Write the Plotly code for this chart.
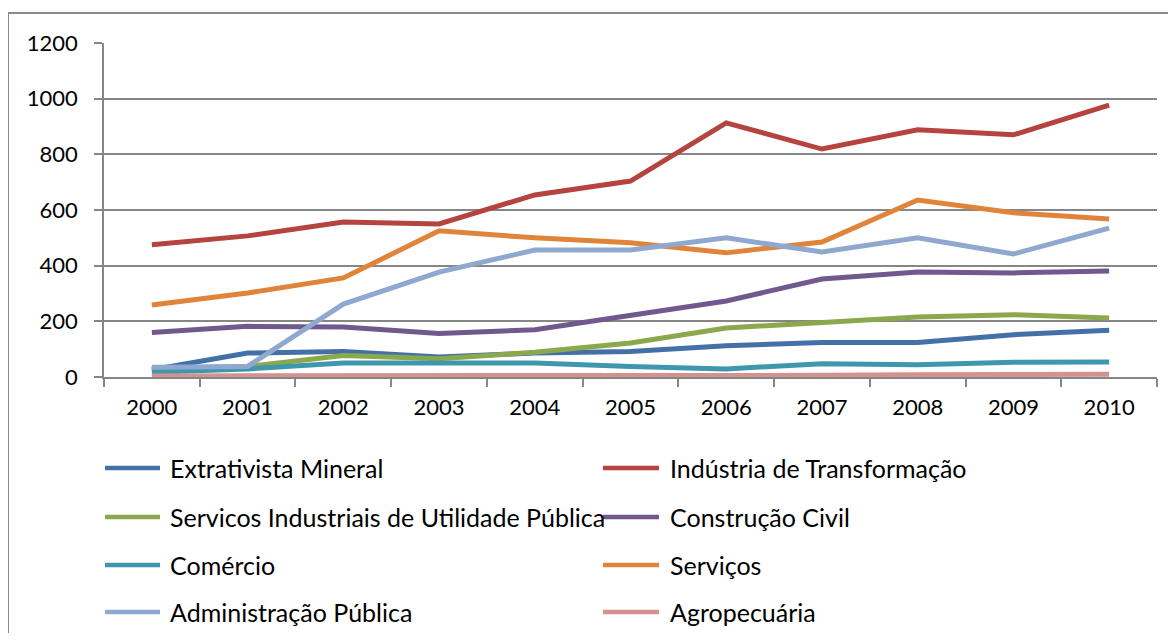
import plotly.graph_objects as go

# Data
years = ['2000', '2001', '2002', '2003', '2004', '2005', '2006', '2007', '2008', '2009', '2010']
extrativista = [26, 86, 92, 72, 86, 92, 112, 124, 124, 152, 168]
industria = [475, 507, 557, 550, 654, 704, 913, 819, 888, 870, 977]
servicos_ind = [30, 38, 77, 66, 89, 122, 176, 194, 216, 224, 212]
construcao = [160, 182, 180, 156, 170, 223, 273, 352, 377, 374, 381]
comercio = [17, 29, 50, 50, 50, 38, 29, 48, 44, 53, 54]
servicos = [259, 302, 356, 525, 500, 482, 446, 485, 636, 590, 568]
administracao = [35, 38, 262, 377, 456, 456, 500, 449, 500, 442, 535]
agropecuaria = [4, 4, 4, 4, 4, 6, 2, 6, 8, 11, 10]

series = [
    ('Extrativista Mineral', extrativista, '#4470A8'),
    ('Indústria de Transformação', industria, '#B5433F'),
    ('Servicos Industriais de Utilidade Pública', servicos_ind, '#8BA84C'),
    ('Construção Civil', construcao, '#71588F'),
    ('Comércio', comercio, '#3F97AE'),
    ('Serviços', servicos, '#E0843A'),
    ('Administração Pública', administracao, '#8FA8CF'),
    ('Agropecuária', agropecuaria, '#D49190'),
]

# page body has an 8px margin, so work in figure pixels = page pixels - 8
OFF = 8
W, H = 1176 - 2 * OFF, 641 - 2 * OFF
L, R, T, B = 104 - OFF, 1157 - OFF, 43 - OFF, 377 - OFF
FONT = 'Lato'


def px_x(p):
    return (p - OFF - L) / (R - L)


def px_y(p):
    return (B - (p - OFF)) / (B - T)


fig = go.Figure()
for name, vals, color in series:
    fig.add_trace(go.Scatter(x=years, y=vals, name=name, mode='lines',
                             line=dict(color=color, width=5), showlegend=False))

# Manual legend, two columns like the original
col_line = [(105, 160), (603, 659)]
col_text = [168, 668]
rows = [468, 517, 565, 612]
shapes = []
annotations = []
for i, (name, vals, color) in enumerate(series):
    c, r = i % 2, i // 2
    x0, x1 = col_line[c]
    y = rows[r]
    shapes.append(dict(type='line', xref='paper', yref='paper',
                       x0=px_x(x0), x1=px_x(x1), y0=px_y(y), y1=px_y(y),
                       line=dict(color=color, width=4.5)))
    annotations.append(dict(text=name, xref='paper', yref='paper',
                            x=px_x(col_text[c]), y=px_y(y), xanchor='left', yanchor='middle',
                            showarrow=False, font=dict(size=25, color='black', family=FONT)))

# Chart-area border (left and top visible)
shapes.append(dict(type='line', xref='paper', yref='paper', x0=px_x(8), x1=px_x(8),
                   y0=px_y(13), y1=px_y(700), line=dict(color='#8a8a8a', width=2)))
shapes.append(dict(type='line', xref='paper', yref='paper', x0=px_x(8), x1=px_x(1250),
                   y0=px_y(13), y1=px_y(13), line=dict(color='#8a8a8a', width=2)))

fig.update_layout(
    width=W, height=H,
    margin=dict(l=L, r=W - R, t=T, b=H - B),
    plot_bgcolor='white', paper_bgcolor='white',
    font=dict(family=FONT, size=22, color='black'),
    shapes=shapes, annotations=annotations,
)
fig.update_xaxes(type='category', range=[-0.5, 10.5], tickson='boundaries',
                 ticks='outside', ticklen=8,
                 tickcolor='#868686', tickwidth=1.5, showgrid=False,
                 showline=True, linecolor='#868686', linewidth=1.5,
                 ticklabelstandoff=10, tickfont=dict(size=22, family=FONT))
fig.update_yaxes(range=[0, 1200], dtick=200, ticks='outside', ticklen=8,
                 tickcolor='#868686', tickwidth=1.5, showgrid=True,
                 gridcolor='#868686', gridwidth=1.5, zeroline=False,
                 showline=True, linecolor='#868686', linewidth=1.5,
                 ticklabelstandoff=12, tickfont=dict(size=22, family=FONT))

fig.write_html('out.html')
